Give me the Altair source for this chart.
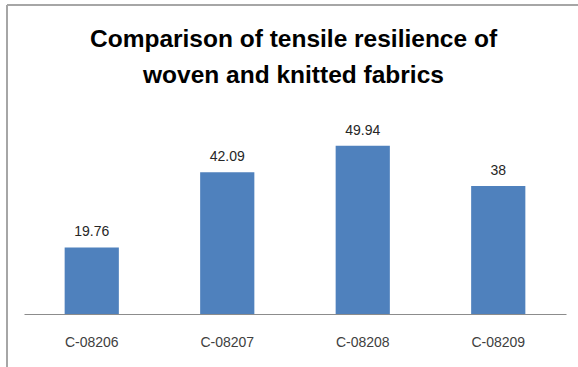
import altair as alt
import pandas as pd

categories = ["C-08206", "C-08207", "C-08208", "C-08209"]
values = [19.76, 42.09, 49.94, 38]
labels = ["19.76", "42.09", "49.94", "38"]
title_text = "Comparison of tensile resilience of\nwoven and knitted fabrics"

df = pd.DataFrame({"sample": categories, "value": values, "label": labels})

base = alt.Chart(df)

x = alt.X("sample:N", sort=categories, title=None,
          scale=alt.Scale(paddingInner=0.6, paddingOuter=0.3),
          axis=alt.Axis(labelAngle=0, ticks=False, labelPadding=21,
                        labelFont="Liberation Sans", labelFontSize=14,
                        labelColor="#404040", domainColor="#8c8c8c",
                        domainWidth=1.2, grid=False))
y = alt.Y("value:Q", title=None, scale=alt.Scale(domain=[0, 60]), axis=None)

bars = base.mark_bar(color="#4f81bd").encode(x=x, y=y)
text = base.mark_text(baseline="bottom", dy=-8, font="Liberation Sans",
                      fontSize=14, color="#262626").encode(
    x=alt.X("sample:N", sort=categories), y="value:Q", text="label:N")

one = alt.Data(values=[{"t": title_text}])
title = alt.Chart(one).mark_text(
    font="Liberation Sans", fontSize=24.5, fontWeight="bold", color="#000000",
    lineBreak="\n", lineHeight=36, align="center", baseline="alphabetic").encode(
    x=alt.value(269.5), y=alt.value(-65), text="t:N")

left_rule = alt.Chart(one).mark_rule(color="#a6a6a6", strokeWidth=2).encode(
    x=alt.value(-17), y=alt.value(-107), y2=alt.value(260))
top_rule = alt.Chart(one).mark_rule(color="#a6a6a6", strokeWidth=2).encode(
    x=alt.value(-17), x2=alt.value(560), y=alt.value(-107))

chart = alt.layer(bars, text, title, left_rule, top_rule).properties(
    width=542, height=202,
    background="white",
    autosize=alt.AutoSizeParams(type="none"),
    padding={"left": 24, "top": 112, "right": 12, "bottom": 53},
).configure_view(stroke=None)

chart.save("out.html", embed_options={"renderer": "svg", "actions": False})
